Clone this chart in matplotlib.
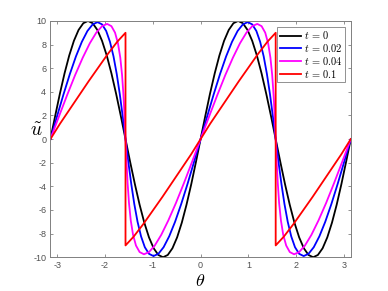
import matplotlib
matplotlib.use("Agg")
import matplotlib.pyplot as plt

plt.rcParams['mathtext.fontset'] = 'cm'
plt.rcParams['axes.unicode_minus'] = False
plt.rcParams['font.family'] = ['Liberation Sans', 'DejaVu Sans']

# t = 0
th0 = [-3.142, -3.043, -2.945, -2.847, -2.749, -2.651, -2.553, -2.454, -2.356,
       -2.258, -2.160, -2.062, -1.963, -1.865, -1.767, -1.669, -1.571,
       -1.473, -1.374, -1.276, -1.178, -1.080, -0.982, -0.884, -0.785,
       -0.687, -0.589, -0.491, -0.393, -0.295, -0.196, -0.098, 0.0,
       0.098, 0.196, 0.295, 0.393, 0.491, 0.589, 0.687, 0.785,
       0.884, 0.982, 1.080, 1.178, 1.276, 1.374, 1.473, 1.571,
       1.669, 1.767, 1.865, 1.963, 2.062, 2.160, 2.258, 2.356,
       2.454, 2.553, 2.651, 2.749, 2.847, 2.945, 3.043, 3.142]
u0_half = [0, 1.951, 3.827, 5.556, 7.071, 8.315, 9.239, 9.808, 10.0,
           9.808, 9.239, 8.315, 7.071, 5.556, 3.827, 1.951, 0,
           -1.951, -3.827, -5.556, -7.071, -8.315, -9.239, -9.808, -10.0,
           -9.808, -9.239, -8.315, -7.071, -5.556, -3.827, -1.951, 0]
u0 = u0_half + u0_half[1:]

# t = 0.02
th1 = [-3.142, -3.004, -2.868, -2.736, -2.608, -2.485, -2.368, -2.258, -2.156,
       -2.062, -1.975, -1.896, -1.822, -1.754, -1.690, -1.630, -1.571,
       -1.512, -1.451, -1.387, -1.319, -1.246, -1.167, -1.080, -0.985,
       -0.883, -0.774, -0.657, -0.534, -0.406, -0.273, -0.137, 0.0,
       0.138, 0.274, 0.406, 0.534, 0.657, 0.774, 0.884, 0.986,
       1.080, 1.167, 1.246, 1.320, 1.388, 1.452, 1.512, 1.571,
       1.630, 1.691, 1.755, 1.823, 1.896, 1.975, 2.062, 2.157,
       2.258, 2.368, 2.485, 2.608, 2.736, 2.868, 3.004, 3.142]
u1_half = [0, 1.93, 3.79, 5.50, 7.00, 8.23, 9.15, 9.71, 9.90,
           9.71, 9.15, 8.23, 7.00, 5.50, 3.79, 1.93, 0,
           -1.93, -3.79, -5.50, -7.00, -8.23, -9.15, -9.71, -9.90,
           -9.71, -9.15, -8.23, -7.00, -5.50, -3.79, -1.93, 0]
u1 = u1_half + u1_half[1:]

# t = 0.04
th2 = [-3.142, -2.965, -2.792, -2.625, -2.466, -2.318, -2.183, -2.062, -1.956,
       -1.866, -1.790, -1.729, -1.680, -1.643, -1.614, -1.591, -1.571,
       -1.551, -1.527, -1.498, -1.461, -1.413, -1.352, -1.276, -1.185,
       -1.079, -0.959, -0.824, -0.676, -0.517, -0.349, -0.176, 0.0,
       0.177, 0.350, 0.517, 0.676, 0.824, 0.959, 1.080, 1.186,
       1.276, 1.352, 1.413, 1.461, 1.498, 1.527, 1.551, 1.571,
       1.591, 1.615, 1.643, 1.681, 1.729, 1.791, 1.866, 1.956,
       2.062, 2.183, 2.318, 2.466, 2.625, 2.792, 2.965, 3.142]
u2_half = [0, 1.90, 3.73, 5.42, 6.89, 8.11, 9.01, 9.56, 9.75,
           9.56, 9.01, 8.11, 6.89, 5.42, 3.73, 1.90, 0,
           -1.90, -3.73, -5.42, -6.89, -8.11, -9.01, -9.56, -9.75,
           -9.56, -9.01, -8.11, -6.89, -5.42, -3.73, -1.90, 0]
u2 = u2_half + u2_half[1:]

# t = 0.1 (shocks at +-pi/2)
th3 = [-3.142, -2.942, -2.742, -2.542, -2.342, -2.142, -1.942, -1.742, -1.571,
       -1.571, -1.4, -1.2, -1.0, -0.8, -0.6, -0.4, -0.2, 0.0,
       0.2, 0.4, 0.6, 0.8, 1.0, 1.2, 1.4, 1.571,
       1.571, 1.742, 1.942, 2.142, 2.342, 2.542, 2.742, 2.942, 3.142]
u3 = [0, 1.3, 2.5, 3.7, 4.9, 6.05, 7.2, 8.25, 9.0,
      -9.0, -8.25, -7.2, -6.05, -4.9, -3.7, -2.5, -1.3, 0,
      1.3, 2.5, 3.7, 4.9, 6.05, 7.2, 8.25, 9.0,
      -9.0, -8.25, -7.2, -6.05, -4.9, -3.7, -2.5, -1.3, 0]

labels = ['$t\\,=\\,0$', '$t\\,=\\,0.02$', '$t\\,=\\,0.04$', '$t\\,=\\,0.1$']
colors = ['black', 'blue', 'magenta', 'red']

fig = plt.figure(figsize=(3.88, 2.91), dpi=100)
ax = fig.add_axes([0.130, 0.116, 0.774, 0.812])

for th, u, c, lab in zip([th0, th1, th2, th3], [u0, u1, u2, u3], colors, labels):
    ax.plot(th, u, color=c, lw=1.3, label=lab)

ax.set_xlim(-3.1416, 3.1416)
ax.set_ylim(-10, 10)
ax.set_xticks([-3, -2, -1, 0, 1, 2, 3])
ax.set_yticks(range(-10, 11, 2))
ax.tick_params(direction='in', length=2.5, width=0.6, top=True, right=True,
               labelsize=6.5, labelcolor='#505050', color='#808080', pad=3)
for s in ax.spines.values():
    s.set_color('#808080')
    s.set_linewidth(0.7)

ax.set_xlabel(r'$\theta$', fontsize=13, labelpad=2)
ax.set_ylabel(r'$\tilde{u}$', fontsize=14, rotation=0, va='center', ha='center')
ax.yaxis.set_label_coords(-0.048, 0.535)

leg = ax.legend(loc='upper right', bbox_to_anchor=(0.981, 0.976), fontsize=7.5,
                fancybox=False, framealpha=1, edgecolor='#808080',
                borderpad=0.25, labelspacing=0.08, handlelength=2.0,
                handletextpad=0.3, borderaxespad=0)
leg.get_frame().set_linewidth(0.6)

fig.savefig('out.png', dpi=100)
